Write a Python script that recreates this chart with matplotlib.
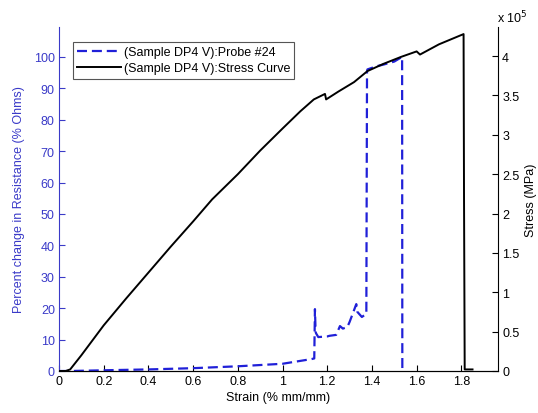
import matplotlib
matplotlib.use("Agg")
import matplotlib.pyplot as plt
import numpy as np

plt.rcParams['font.family'] = ['Liberation Sans', 'DejaVu Sans']

# Probe resistance data (percent change)
strain_probe = [0, 0.05, 0.25, 0.4, 0.6, 0.8, 1.0, 1.13, 1.142, 1.145, 1.148, 1.15, 1.16,
                1.2, 1.21, 1.24, 1.257, 1.27, 1.29, 1.30, 1.317, 1.33, 1.335, 1.355, 1.375,
                1.378, 1.38, 1.42, 1.45, 1.5, 1.535, 1.536]
resistance = [0, 0, 0.3, 0.5, 0.9, 1.5, 2.3, 3.8, 4.0, 19.7, 12.5, 12.0, 10.8,
              11.0, 11.2, 11.5, 14.3, 13.5, 14.0, 15.6, 18.8, 21.3, 18.8, 17.2, 18.2,
              95.5, 96, 97, 97.5, 98.5, 100, 0]

# Stress curve (units of 1e5 MPa)
strain_stress = [0, 0.03, 0.05, 0.1, 0.2, 0.3, 0.4, 0.5, 0.6, 0.685, 0.8, 0.9, 1.0,
                 1.08, 1.14, 1.19, 1.195, 1.25, 1.32, 1.38, 1.45, 1.53, 1.6, 1.615,
                 1.7, 1.81, 1.812, 1.815, 1.85]
stress_e5 = [0, 0, 0.02, 0.2, 0.58, 0.92, 1.25, 1.58, 1.9, 2.18, 2.5, 2.8, 3.08,
             3.3, 3.45, 3.52, 3.45, 3.55, 3.67, 3.81, 3.9, 3.99, 4.06, 4.02,
             4.15, 4.28, 2.2, 0.02, 0.02]

x_ticks = [0, 0.2, 0.4, 0.6, 0.8, 1.0, 1.2, 1.4, 1.6, 1.8]
x_labels = ['0', '0.2', '0.4', '0.6', '0.8', '1', '1.2', '1.4', '1.6', '1.8']
left_ticks = list(range(0, 101, 10))
right_ticks = [0, 0.5, 1, 1.5, 2, 2.5, 3, 3.5, 4]
right_labels = ['0', '0.5', '1', '1.5', '2', '2.5', '3', '3.5', '4']

blue = '#2020d8'
lblue = '#3a3ac8'

fig = plt.figure(figsize=(5.38, 4.14), dpi=100)
ax = fig.add_axes([59/538, 42/414, 439/538, 344/414])
ax2 = ax.twinx()

l1, = ax.plot(strain_probe, resistance, color=blue, lw=1.6, ls='--', dashes=(4.5, 2.2),
              label='(Sample DP4 V):Probe #24')
l2, = ax2.plot(strain_stress, stress_e5, color='black', lw=1.4,
               label='(Sample DP4 V):Stress Curve')

ax.set_xlim(0, 1.964)
ax.set_ylim(0, 109.5)
ax2.set_ylim(0, 4.37)

ax.set_xticks(x_ticks)
ax.set_xticklabels(x_labels)
ax.set_yticks(left_ticks)
ax2.set_yticks(right_ticks)
ax2.set_yticklabels(right_labels)

for a in (ax, ax2):
    a.spines['top'].set_visible(False)
ax.spines['left'].set_color(lblue)
ax.spines['right'].set_visible(False)
ax2.spines['left'].set_visible(False)
ax2.spines['right'].set_color('black')

ax.tick_params(axis='x', direction='in', length=4, labelsize=9, colors='black', pad=3)
ax.tick_params(axis='y', direction='in', length=4, labelsize=9, colors=lblue, pad=3)
ax2.tick_params(axis='y', direction='in', length=4, labelsize=9, colors='black', pad=3)

ax.set_xlabel('Strain (% mm/mm)', fontsize=9, labelpad=3)
ax.set_ylabel('Percent change in Resistance (% Ohms)', fontsize=9, color=lblue, labelpad=6)
ax2.set_ylabel('Stress (MPa)', fontsize=9, color='black', labelpad=4)

fig.text(497/538, 1 - 18/414, r'x 10$^5$', fontsize=9, ha='left', va='center')

leg = ax.legend(handles=[l1, l2], loc='upper left', bbox_to_anchor=(14/439, 1 - 15/344),
                fontsize=9, frameon=True, fancybox=False, framealpha=1,
                edgecolor='#555555', borderpad=0.35, labelspacing=0.3,
                handlelength=3.5, handletextpad=0.2, borderaxespad=0)
leg.get_frame().set_linewidth(0.8)
leg.set_zorder(10)

fig.savefig('out.png', dpi=100)
